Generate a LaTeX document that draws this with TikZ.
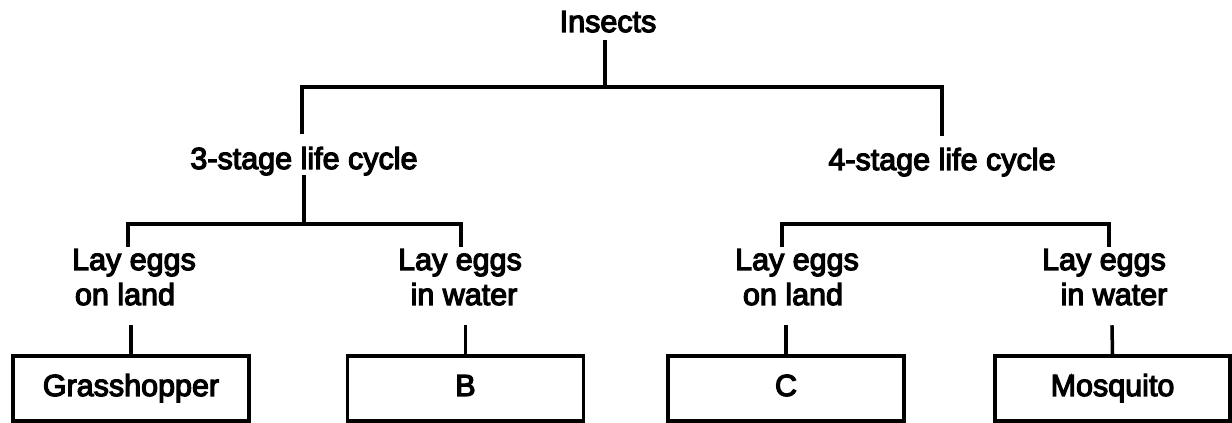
\documentclass[tikz,border=0pt]{standalone}
\usepackage{fontspec}
\setmainfont{Liberation Sans}
\newfontfamily\lblfont{Liberation Sans}[BoldFont={Liberation Sans},BoldFeatures={FakeBold=4}]
\begin{document}
\begin{tikzpicture}[x=1pt,y=1pt,
  lbl/.style={font=\lblfont\bfseries\fontsize{30.5}{35}\selectfont, inner sep=0pt, anchor=base},
  conn/.style={line width=3.5pt, line join=miter, line cap=rect},
  leafbox/.style={draw, line width=3.5pt, minimum width=236pt, minimum height=65pt,
     inner sep=0pt, font=\lblfont\bfseries\fontsize{30.5}{35}\selectfont, text height=22pt, text depth=7pt}]
\useasboundingbox (0,0) rectangle (1232,423);
% text nodes
\node[lbl] (ins) at (608,391) {Insects};
\node[lbl] (s3) at (304,254) {3-stage life cycle};
\node[lbl] (s4) at (942,253) {4-stage life cycle};
\node[lbl] (a1) at (134,153) {Lay eggs};
\node[lbl] (a2) at (125,118) {on land};
\node[lbl] (b1) at (460,153) {Lay eggs};
\node[lbl] (b2) at (464,118) {in water};
\node[lbl] (c1) at (797,153) {Lay eggs};
\node[lbl] (c2) at (793,118) {on land};
\node[lbl] (d1) at (1104,153) {Lay eggs};
\node[lbl] (d2) at (1114,118) {in water};
% boxes
\node[leafbox] (gh) at (131,34.5) {Grasshopper};
\node[leafbox] (bb) at (465.5,34.5) {B};
\node[leafbox] (cc) at (786,34.5) {C};
\node[leafbox, minimum width=235pt] (mq) at (1112.5,34.5) {Mosquito};
% bracket coordinates
\coordinate (i0) at (605,381);
\coordinate (i1) at (605,336);
\coordinate (tl) at (302,336);
\coordinate (tr) at (942,336);
\coordinate (tl1) at (302,291);
\coordinate (tr1) at (942,289);
\coordinate (p0) at (304,246);
\coordinate (p1) at (304,199);
\coordinate (pl) at (128,199);
\coordinate (pr) at (461,199);
\coordinate (pl1) at (128,178);
\coordinate (pr1) at (461,178);
\coordinate (ql) at (782,199);
\coordinate (qr) at (1109,199);
\coordinate (ql1) at (782,178);
\coordinate (qr1) at (1109,178);
\coordinate (g0) at (131,96);
\coordinate (h0) at (465.5,96);
\coordinate (k0) at (786,96);
\coordinate (m0) at (1112,96);
% connectors
\draw[conn] (i0) -- (i1);
\draw[conn] (tl1) -- (tl) -- (tr) -- (tr1);
\draw[conn] (p0) -- (p1);
\draw[conn] (pl1) -- (pl) -- (pr) -- (pr1);
\draw[conn] (ql1) -- (ql) -- (qr) -- (qr1);
\draw[conn] (g0) -- (gh.north);
\draw[conn] (h0) -- (bb.north);
\draw[conn] (k0) -- (cc.north);
\draw[conn] (m0) -- (mq.north);
\end{tikzpicture}
\end{document}
